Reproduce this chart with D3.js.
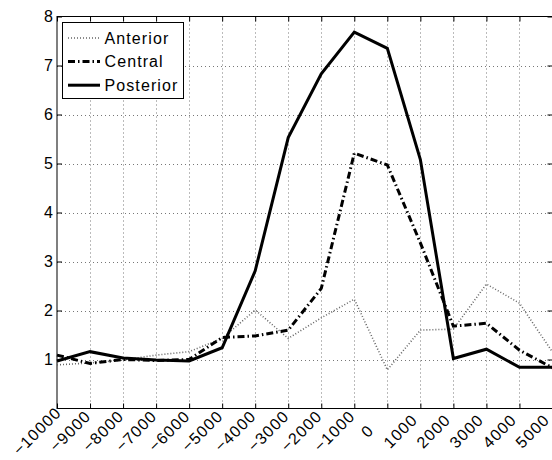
<!DOCTYPE html>
<html><head><meta charset="utf-8">
<script src="https://cdn.jsdelivr.net/npm/d3@7"></script>
<style>body{margin:0;background:#fff}svg{display:block}</style>
</head><body>
<script>
const xValues = [-10000,-9000,-8000,-7000,-6000,-5000,-4000,-3000,-2000,-1000,0,1000,2000,3000,4000,5000];
const anterior  = [0.89,0.93,0.99,1.09,1.16,1.43,2.01,1.43,1.85,2.23,0.79,1.60,1.62,2.54,2.15,1.15];
const central   = [1.09,0.92,1.00,0.98,1.00,1.45,1.48,1.60,2.45,5.21,4.97,3.38,1.68,1.74,1.19,0.83];
const posterior = [0.97,1.16,1.03,0.99,0.97,1.24,2.81,5.53,6.83,7.68,7.35,5.08,1.02,1.21,0.84,0.84];
const seriesNames = ["Anterior","Central","Posterior"];
const yTicks = [1,2,3,4,5,6,7,8];
const xTicks = xValues;

const W = 552, H = 460;
const L = 57, R = 552.5, T = 16.5, B = 408.5;
const font = "'Liberation Sans', Arial, Helvetica, sans-serif";
const fs = 16, ls = 1.1;

const svg = d3.select("body").append("svg").attr("width", W).attr("height", H);
const x = d3.scaleLinear().domain([-10000, 5000]).range([L, R]);
const y = d3.scaleLinear().domain([0, 8]).range([B, T]);

// grid
const g = svg.append("g");
g.selectAll(".vg").data(xTicks.slice(1, -1)).enter().append("line")
  .attr("x1", d => Math.round(x(d)) + 0.5).attr("x2", d => Math.round(x(d)) + 0.5)
  .attr("y1", T).attr("y2", B)
  .attr("stroke", "#777").attr("stroke-width", 1).attr("stroke-dasharray", "1,3");
g.selectAll(".hg").data(yTicks.slice(0, -1)).enter().append("line")
  .attr("y1", d => Math.round(y(d)) + 0.5).attr("y2", d => Math.round(y(d)) + 0.5)
  .attr("x1", L).attr("x2", R)
  .attr("stroke", "#777").attr("stroke-width", 1).attr("stroke-dasharray", "1,3");

// axes
const ax = svg.append("g").attr("transform", `translate(0,${B})`)
  .call(d3.axisBottom(x).tickValues(xTicks).tickSize(-5).tickFormat(d => d < 0 ? "\u2212" + Math.abs(d) : d));
ax.select(".domain").remove();
ax.selectAll("line").attr("stroke", "#000");
ax.selectAll("text").attr("font-family", font).attr("font-size", fs).attr("fill", "#000")
  .attr("letter-spacing", ls)
  .attr("text-anchor", "middle").attr("dy", null).attr("y", null)
  .attr("transform", "translate(-16.5,26.5) rotate(-45)");

const axTop = svg.append("g").attr("transform", `translate(0,${T})`)
  .call(d3.axisTop(x).tickValues(xTicks).tickSize(-5).tickFormat(""));
axTop.select(".domain").remove();
axTop.selectAll("line").attr("stroke", "#000");

const ay = svg.append("g").attr("transform", `translate(${L},0)`)
  .call(d3.axisLeft(y).tickValues(yTicks).tickSize(-5).tickPadding(4));
ay.select(".domain").remove();
ay.selectAll("line").attr("stroke", "#000");
ay.selectAll("text").attr("font-family", font).attr("font-size", fs).attr("fill", "#000").attr("x", -4);

const ayR = svg.append("g").attr("transform", `translate(${R},0)`)
  .call(d3.axisRight(y).tickValues(yTicks).tickSize(-5).tickFormat(""));
ayR.select(".domain").remove();
ayR.selectAll("line").attr("stroke", "#000");

svg.append("rect").attr("x", L).attr("y", T).attr("width", R - L).attr("height", B - T)
  .attr("fill", "none").attr("stroke", "#000").attr("stroke-width", 1);

// lines
const styles = {
  Anterior:  {stroke: "#666", width: 1.6, dash: "1,2"},
  Central:   {stroke: "#000", width: 3,   dash: "7,3,1.5,3"},
  Posterior: {stroke: "#000", width: 3,   dash: null}
};
const dataMap = {Anterior: anterior, Central: central, Posterior: posterior};
const line = d3.line().x(d => x(d[0])).y(d => y(d[1]));
seriesNames.forEach(n => {
  const st = styles[n];
  svg.append("path").datum(xValues.map((v, i) => [v, dataMap[n][i]]))
    .attr("d", line).attr("fill", "none")
    .attr("stroke", st.stroke).attr("stroke-width", st.width)
    .attr("stroke-dasharray", st.dash).attr("stroke-linejoin", "miter");
});

// legend
const lg = svg.append("g");
lg.append("rect").attr("x", 62.5).attr("y", 22.5).attr("width", 121).attr("height", 76)
  .attr("fill", "#fff").attr("stroke", "#000").attr("stroke-width", 1);
seriesNames.forEach((n, i) => {
  const st = styles[n];
  const yy = 38 + i * 23.6;
  lg.append("line").attr("x1", 68).attr("x2", 100).attr("y1", yy).attr("y2", yy)
    .attr("stroke", st.stroke).attr("stroke-width", st.width).attr("stroke-dasharray", st.dash);
  lg.append("text").attr("x", 104.5).attr("y", yy).attr("dy", "0.35em")
    .attr("font-family", font).attr("font-size", fs).attr("letter-spacing", ls)
    .attr("fill", "#000").text(n);
});
</script>
</body></html>
